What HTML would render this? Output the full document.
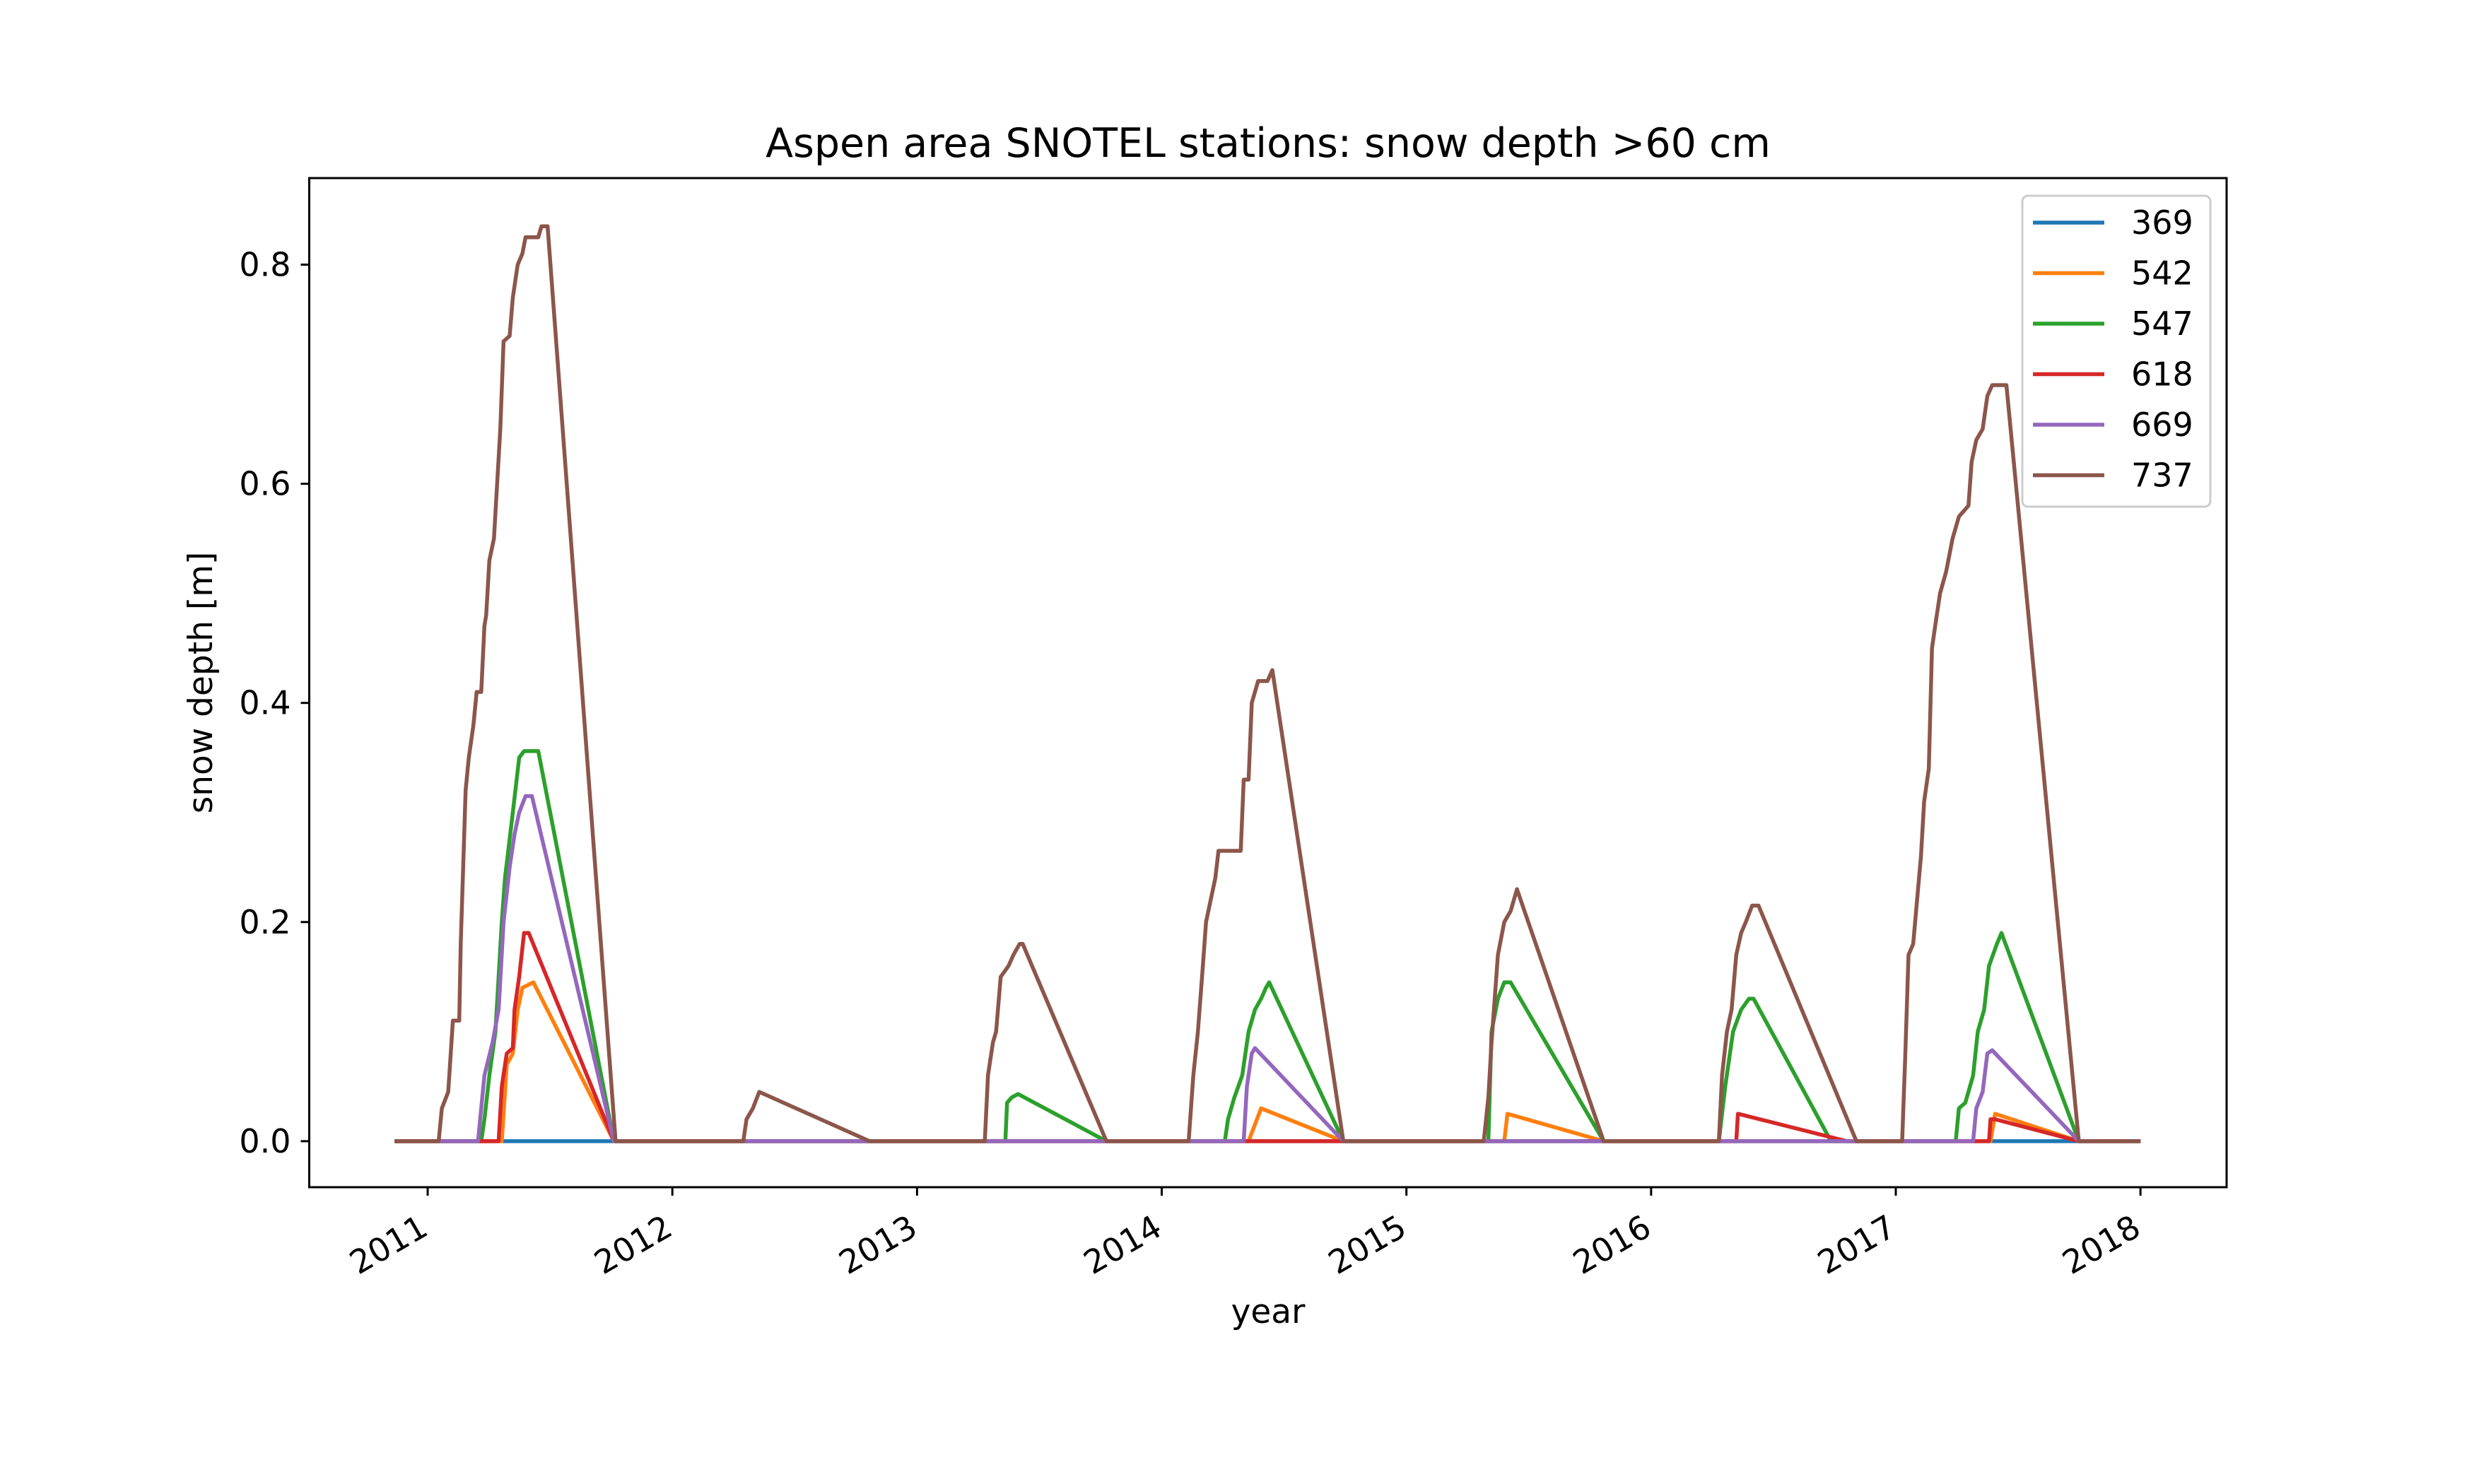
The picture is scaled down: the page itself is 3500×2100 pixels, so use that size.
<!DOCTYPE html>
<html><head><meta charset="utf-8"><style>
html,body{margin:0;padding:0;background:#fff}
svg{display:block}
text{font-family:"DejaVu Sans","Liberation Sans",sans-serif;fill:#000}
</style></head><body>
<svg id="chart" width="3500" height="2100" viewBox="0 0 3500 2100" xmlns="http://www.w3.org/2000/svg">
<rect width="3500" height="2100" fill="#fff"/>
<text x="1794" y="222" font-size="57" text-anchor="middle">Aspen area SNOTEL stations: snow depth &gt;60 cm</text>
<g id="plot"></g>
<rect x="437.5" y="252" width="2712.5" height="1428" fill="none" stroke="#000" stroke-width="3"/>
<g id="xticks"></g><g id="yticks"></g>
<text x="1794" y="1872" font-size="47" text-anchor="middle">year</text>
<text transform="translate(300,966) rotate(-90)" font-size="47" text-anchor="middle">snow depth [m]</text>
<g id="legend"></g>
</svg>
<script>
const seriesNames = ["369","542","547","618","669","737"];
const seriesColors = ["#1f77b4","#ff7f0e","#2ca02c","#d62728","#9467bd","#8c564b"];
const yTicks = [0.0,0.2,0.4,0.6,0.8];
const yTickLabels = ["0.0","0.2","0.4","0.6","0.8"];
const xTicks = [2011,2012,2013,2014,2015,2016,2017,2018];
const xTickLabels = ["2011","2012","2013","2014","2015","2016","2017","2018"];
const s369 = [[2010.865,0],[2018,0]];
const s542 = [[2010.865,0],[2011.303,0],[2011.323,0.07],[2011.348,0.08],[2011.368,0.12],[2011.387,0.14],[2011.432,0.145],[2011.761,0],[2014.355,0],[2014.406,0.03],[2014.742,0],[2015.4,0],[2015.413,0.025],[2015.806,0],[2017.387,0],[2017.406,0.025],[2017.748,0],[2018,0]];
const s547 = [[2010.865,0],[2011.219,0],[2011.232,0.02],[2011.252,0.06],[2011.277,0.1],[2011.303,0.2],[2011.316,0.24],[2011.348,0.3],[2011.374,0.35],[2011.394,0.356],[2011.452,0.356],[2011.761,0],[2013.361,0],[2013.368,0.035],[2013.387,0.04],[2013.413,0.043],[2013.774,0],[2014.258,0],[2014.271,0.02],[2014.297,0.04],[2014.329,0.06],[2014.355,0.1],[2014.381,0.12],[2014.406,0.13],[2014.426,0.14],[2014.439,0.145],[2014.742,0],[2015.335,0],[2015.348,0.1],[2015.374,0.13],[2015.4,0.145],[2015.426,0.145],[2015.806,0],[2016.277,0],[2016.303,0.05],[2016.335,0.1],[2016.368,0.12],[2016.4,0.13],[2016.419,0.13],[2016.735,0],[2017.245,0],[2017.258,0.03],[2017.284,0.035],[2017.316,0.06],[2017.335,0.1],[2017.361,0.12],[2017.381,0.16],[2017.413,0.18],[2017.432,0.19],[2017.748,0],[2018,0]];
const s618 = [[2010.865,0],[2011.29,0],[2011.303,0.05],[2011.323,0.08],[2011.348,0.085],[2011.355,0.12],[2011.374,0.15],[2011.394,0.19],[2011.413,0.19],[2011.761,0],[2016.348,0],[2016.355,0.025],[2016.8,0],[2017.381,0],[2017.387,0.02],[2017.406,0.02],[2017.748,0],[2018,0]];
const s669 = [[2010.865,0],[2011.206,0],[2011.232,0.06],[2011.265,0.09],[2011.29,0.12],[2011.31,0.2],[2011.335,0.25],[2011.355,0.28],[2011.374,0.3],[2011.4,0.315],[2011.426,0.315],[2011.761,0],[2014.335,0],[2014.348,0.05],[2014.368,0.08],[2014.381,0.085],[2014.742,0],[2017.316,0],[2017.329,0.03],[2017.355,0.045],[2017.374,0.08],[2017.394,0.083],[2017.748,0],[2018,0]];
const s737 = [[2010.865,0],[2011.045,0],[2011.058,0.03],[2011.084,0.045],[2011.103,0.11],[2011.129,0.11],[2011.135,0.18],[2011.155,0.32],[2011.168,0.35],[2011.187,0.38],[2011.2,0.41],[2011.219,0.41],[2011.232,0.47],[2011.239,0.48],[2011.252,0.53],[2011.271,0.55],[2011.284,0.6],[2011.297,0.65],[2011.31,0.73],[2011.335,0.735],[2011.348,0.77],[2011.368,0.8],[2011.387,0.81],[2011.4,0.825],[2011.452,0.825],[2011.465,0.835],[2011.49,0.835],[2011.768,0],[2012.29,0],[2012.303,0.02],[2012.329,0.03],[2012.355,0.045],[2012.806,0],[2013.277,0],[2013.29,0.06],[2013.31,0.09],[2013.323,0.1],[2013.342,0.15],[2013.374,0.16],[2013.394,0.17],[2013.419,0.18],[2013.432,0.18],[2013.774,0],[2014.11,0],[2014.129,0.06],[2014.148,0.1],[2014.168,0.16],[2014.181,0.2],[2014.2,0.22],[2014.219,0.24],[2014.232,0.265],[2014.323,0.265],[2014.335,0.33],[2014.355,0.33],[2014.368,0.4],[2014.381,0.41],[2014.394,0.42],[2014.432,0.42],[2014.452,0.43],[2014.742,0],[2015.316,0],[2015.335,0.04],[2015.348,0.09],[2015.361,0.13],[2015.374,0.17],[2015.4,0.2],[2015.426,0.21],[2015.452,0.23],[2015.806,0],[2016.277,0],[2016.29,0.06],[2016.31,0.1],[2016.329,0.12],[2016.348,0.17],[2016.368,0.19],[2016.387,0.2],[2016.413,0.215],[2016.439,0.215],[2016.839,0],[2017.026,0],[2017.039,0.08],[2017.052,0.17],[2017.071,0.18],[2017.103,0.26],[2017.116,0.31],[2017.135,0.34],[2017.148,0.45],[2017.161,0.47],[2017.181,0.5],[2017.206,0.52],[2017.232,0.55],[2017.258,0.57],[2017.297,0.58],[2017.31,0.62],[2017.329,0.64],[2017.355,0.65],[2017.374,0.68],[2017.394,0.69],[2017.452,0.69],[2017.748,0],[2018,0]];
const allSeries = [s369,s542,s547,s618,s669,s737];

const NS = "http://www.w3.org/2000/svg";
const X0 = 437.5, X1 = 3150, Y0 = 252, Y1 = 1680;
const xmin = 2010.516, xmax = 2018.352;
const ymin = -0.042, ymax = 0.879;
function xScale(v){ return X0 + (v - xmin) / (xmax - xmin) * (X1 - X0); }
function yScale(v){ return Y1 - (v - ymin) / (ymax - ymin) * (Y1 - Y0); }
function mk(tag, attrs, parent){ const e = document.createElementNS(NS, tag); for (const k in attrs) e.setAttribute(k, attrs[k]); parent.appendChild(e); return e; }

const plot = document.getElementById("plot");
allSeries.forEach((s, i) => {
  const d = s.map((p, j) => (j ? "L" : "M") + xScale(p[0]).toFixed(1) + "," + yScale(p[1]).toFixed(1)).join(" ");
  const path = mk("path", {d: d, fill: "none", stroke: seriesColors[i], "stroke-width": 5.5, "stroke-linejoin": "round"}, plot);
  
  
});

const xt = document.getElementById("xticks");
xTicks.forEach((t, i) => {
  const x = xScale(t);
  const ln = mk("line", {x1: x, y1: Y1, x2: x, y2: Y1 + 12, stroke: "#000", "stroke-width": 3}, xt);
  
  
  const tx = mk("text", {transform: "translate(" + (x - 14) + "," + (Y1 + 36) + ") rotate(-30)", "font-size": 46, "text-anchor": "end", "dominant-baseline": "hanging"}, xt);
  tx.textContent = xTickLabels[i];
  
  
});
const yt = document.getElementById("yticks");
yTicks.forEach((t, i) => {
  const y = yScale(t);
  const ln = mk("line", {x1: X0 - 12, y1: y, x2: X0, y2: y, stroke: "#000", "stroke-width": 3}, yt);
  
  
  const tx = mk("text", {x: X0 - 26, y: y + 16, "font-size": 46, "text-anchor": "end"}, yt);
  tx.textContent = yTickLabels[i];
  
  
});

const lg = document.getElementById("legend");
const box = mk("rect", {x: 2861, y: 277, width: 266, height: 440, rx: 8, fill: "#fff", "fill-opacity": 0.8, stroke: "#ccc", "stroke-width": 3}, lg);


seriesNames.forEach((n, i) => {
  const y = 315 + i * 71.5;
  const ln = mk("line", {x1: 2876, y1: y, x2: 2977, y2: y, stroke: seriesColors[i], "stroke-width": 5.5}, lg);
  
  
  const tx = mk("text", {x: 3015, y: y + 16, "font-size": 46}, lg);
  tx.textContent = n;
  
  
});
</script>
</body></html>
